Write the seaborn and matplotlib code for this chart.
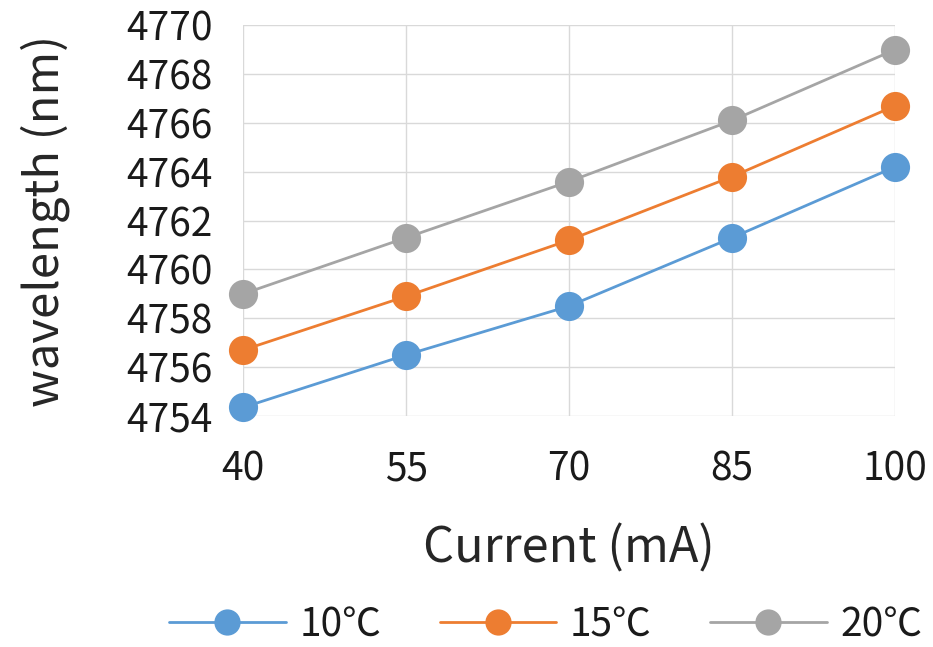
import pandas as pd
import matplotlib.pyplot as plt
import seaborn as sns

# values
current = ['40', '55', '70', '85', '100']
temps = ['10℃', '15℃', '20℃']
wl_10 = [4754.35, 4756.5, 4758.5, 4761.3, 4764.2]
wl_15 = [4756.7, 4758.9, 4761.2, 4763.8, 4766.7]
wl_20 = [4759.0, 4761.3, 4763.6, 4766.1, 4769.0]
colors = ['#5B9BD5', '#ED7D31', '#A5A5A5']

rows = []
for t, vals in zip(temps, [wl_10, wl_15, wl_20]):
    for c, v in zip(current, vals):
        rows.append({'Current': c, 'wavelength': v, 'temp': t})
df = pd.DataFrame(rows)

sns.set_style('white')
plt.rcParams['font.family'] = ['Noto Sans CJK SC', 'DejaVu Sans']
plt.rcParams['text.color'] = '#1a1a1a'
plt.rcParams['xtick.color'] = '#1a1a1a'
plt.rcParams['ytick.color'] = '#1a1a1a'

fig = plt.figure(figsize=(9.33, 6.47), dpi=100)
ax = fig.add_axes([0.2605, 0.357, 0.6988, 0.604])

sns.pointplot(data=df, x='Current', y='wavelength', hue='temp',
              order=current, hue_order=temps, palette=colors,
              markers='o', markersize=21, linewidth=2.0,
              errorbar=None, ax=ax)

for ln in ax.lines:
    ln.set_clip_on(False)
    ln.set_markeredgewidth(0)

ax.set_xlim(0, 4)
ax.set_ylim(4754, 4770)
ax.set_yticks(range(4754, 4771, 2))
ax.grid(True, color='#D9D9D9', linewidth=1)
ax.set_axisbelow(True)
for s in ax.spines.values():
    s.set_visible(False)
ax.tick_params(axis='both', length=0, labelsize=28)
ax.tick_params(axis='x', pad=24)
ax.tick_params(axis='y', pad=22)

ax.set_xlabel('Current (mA)', fontsize=35)
ax.set_ylabel('wavelength (nm)', fontsize=34)
ax.xaxis.set_label_coords(0.5, -0.34)
ax.xaxis.label.set_va('center')
ax.yaxis.set_label_coords(-0.304, 0.5)
ax.yaxis.label.set_va('center')

ax.legend_.remove()
handles, labels = ax.get_legend_handles_labels()
fig.legend(handles, labels, loc='center', bbox_to_anchor=(0.585, 0.034),
           ncol=3, frameon=False, fontsize=28, handlelength=3.0,
           handletextpad=0.35, columnspacing=1.5, markerscale=0.9)

fig.savefig('out.png', dpi=100)
